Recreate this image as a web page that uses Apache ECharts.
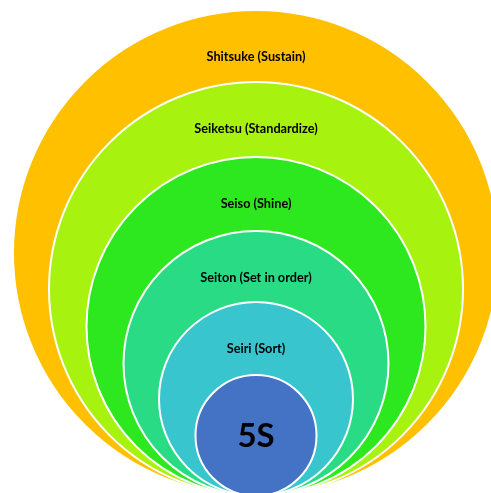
<!DOCTYPE html>
<html>
<head>
<meta charset="utf-8">
<script src="https://cdn.jsdelivr.net/npm/echarts@6/dist/echarts.min.js"></script>
<style>
  html, body { margin: 0; padding: 0; background: #fff; }
  #chart { width: 491px; height: 493px; }
</style>
</head>
<body>
<div id="chart"></div>
<script>
// 5S layers, outermost first; all circles touch at one bottom point
const layerNames = ['Shitsuke (Sustain)', 'Seiketsu (Standardize)', 'Seiso (Shine)', 'Seiton (Set in order)', 'Seiri (Sort)', '5S'];
const layerRadii = [243, 207, 169.5, 132.5, 97, 60.5];
const layerColors = ['#FFC000', '#A8F20F', '#2EE81F', '#2ADB86', '#39C5CE', '#4472C4'];
const tangentX = 256;
const tangentY = 496;

const chart = echarts.init(document.getElementById('chart'), null, { renderer: 'canvas' });

const data = layerNames.map((name, i) => ({
  name: name,
  value: [tangentX, tangentY, layerRadii[i], i]
}));

chart.setOption({
  animation: false,
  grid: { left: 0, right: 0, top: 0, bottom: 0 },
  xAxis: { type: 'value', min: 0, max: 491, show: false },
  yAxis: { type: 'value', min: 0, max: 493, inverse: true, show: false },
  series: [{
    type: 'custom',
    coordinateSystem: 'cartesian2d',
    clip: false,
    data: data,
    renderItem: function (params, api) {
      const i = api.value(3);
      const r = api.size([api.value(2), 0])[0];
      const c = api.coord([api.value(0), api.value(1) - api.value(2)]);
      const isCore = i === layerNames.length - 1;
      return {
        type: 'group',
        children: [
          {
            type: 'circle',
            shape: { cx: c[0], cy: c[1], r: r },
            style: { fill: layerColors[i], stroke: '#ffffff', lineWidth: 2 }
          },
          {
            type: 'text',
            style: {
              text: layerNames[i],
              x: c[0],
              y: isCore ? c[1] + 1 : c[1] - r + 47,
              align: 'center',
              verticalAlign: 'middle',
              fill: '#000000',
              fontFamily: 'Lato',
              fontWeight: 'bold',
              fontSize: isCore ? 33 : 12.7
            }
          }
        ]
      };
    }
  }]
});
</script>
</body>
</html>
